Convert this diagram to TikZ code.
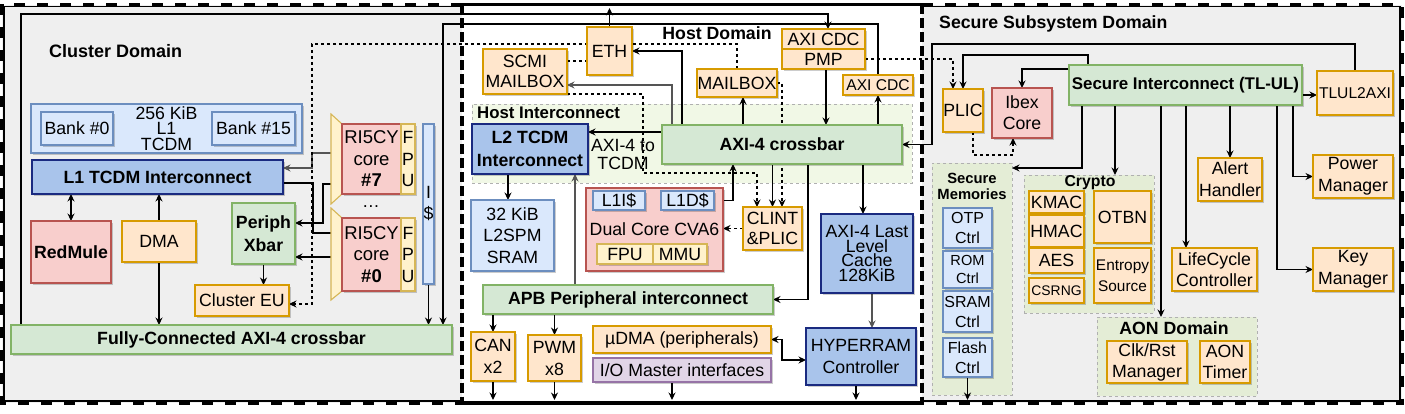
\documentclass[tikz,border=0pt]{standalone}
\usepackage{fontspec}
\setmainfont{Liberation Sans}
\usetikzlibrary{arrows.meta,shadows,calc}
\definecolor{orF}{HTML}{FFE6CC}\definecolor{orD}{HTML}{D79B00}
\definecolor{lbF}{HTML}{DAE8FC}\definecolor{lbD}{HTML}{6C8EBF}
\definecolor{dbF}{HTML}{A9C4EB}\definecolor{dbD}{HTML}{1A2A80}
\definecolor{grF}{HTML}{D5E8D4}\definecolor{grD}{HTML}{82B366}
\definecolor{pkF}{HTML}{F8CECC}\definecolor{pkD}{HTML}{B85450}
\definecolor{yeF}{HTML}{FFF2CC}\definecolor{yeD}{HTML}{D6B656}
\definecolor{puF}{HTML}{E1D5E7}\definecolor{puD}{HTML}{9673A6}
\definecolor{bgG}{HTML}{EFEFEF}
\definecolor{rgF}{HTML}{E4EDD6}\definecolor{rgH}{HTML}{F1F8E6}
\definecolor{rgD}{HTML}{B0B0B0}
\definecolor{lnG}{HTML}{555555}
\pgfdeclarelayer{back}\pgfdeclarelayer{edges}\pgfdeclarelayer{front}
\pgfsetlayers{back,edges,main,front}
\newcommand\mkbox[7]{\node[#2, minimum width={(#5)-(#3)}, minimum height={(#6)-(#4)}] (#1) at ({((#3)+(#5))/2},{((#4)+(#6))/2}) {#7};}
\tikzset{
  fs/.style 2 args={font=\fontsize{#1}{#2}\selectfont},
  fsb/.style 2 args={font=\fontsize{#1}{#2}\selectfont\bfseries},
  bftext/.style={fsb={17.7}{21}},
  base/.style={draw, line width=1.1pt, inner sep=0pt, outer sep=0pt, align=center, fs={17.7}{21},
    drop shadow={shadow xshift=2pt,shadow yshift=-2pt,opacity=0.2,fill=black}},
  orbox/.style={base, fill=orF, draw=orD},
  lbbox/.style={base, fill=lbF, draw=lbD},
  dbbox/.style={base, fill=dbF, draw=dbD},
  grbox/.style={base, fill=grF, draw=grD},
  pkbox/.style={base, fill=pkF, draw=pkD},
  yebox/.style={base, fill=yeF, draw=yeD},
  pubox/.style={base, fill=puF, draw=puD},
  region/.style={draw=rgD, fill=rgF, dash pattern=on 3pt off 3pt, line width=0.8pt, inner sep=0pt, outer sep=0pt},
  lbl/.style={inner sep=0pt, align=center},
  arr/.style={line width=1.1pt, -{Stealth[length=7.5pt,width=7pt,inset=2.5pt]}},
  arrd/.style={arr, dash pattern=on 3pt off 3pt},
  arr2/.style={line width=1.1pt, {Stealth[length=7.5pt,width=7pt,inset=2.5pt]}-{Stealth[length=7.5pt,width=7pt,inset=2.5pt]}},
  ln/.style={line width=1.1pt},
  dln/.style={line width=1.1pt, dash pattern=on 3pt off 3pt},
  domb/.style={line width=3.8pt, dash pattern=on 11pt off 12pt},
  domv/.style={line width=3.8pt, dash pattern=on 10pt off 4pt},
  domt/.style={line width=1.2pt},
  doms/.style={line width=3.8pt},
}
\begin{document}
\begin{tikzpicture}[x=1pt,y=-1pt]
\useasboundingbox (0,0) rectangle (1405,414);
\begin{pgfonlayer}{back}
  \fill[bgG] (2,5) rectangle (462,402.5);
  \fill[bgG] (922,5) rectangle (1402,402.5);
  \mkbox{hostic}{region, fill=rgH}{472}{104}{912}{183}{}
  \mkbox{secmem}{region}{932}{163}{1012}{395}{}
  \mkbox{crypto}{region}{1024}{175}{1154}{313}{}
  \mkbox{aon}{region}{1097}{317}{1257}{396}{}
\end{pgfonlayer}

% ---------- titles ----------
\node[lbl, bftext, fsb={18}{21}, anchor=west] (tcl) at (49,51) {Cluster Domain};
\node[lbl, bftext] (thost) at (717,33) {Host Domain};
\node[lbl, bftext, anchor=west] (tsec) at (939,24) {Secure Subsystem Domain};
\node[lbl, fsb={16.8}{20}, anchor=west] (thic) at (477,113) {Host Interconnect};
\node[lbl, fsb={14.8}{16}] (tsm) at (972,186) {Secure\\Memories};
\node[lbl, fsb={15.8}{18}] (tcr) at (1090,183) {Crypto};
\node[lbl, bftext] (taon) at (1174,328) {AON Domain};

% ---------- cluster ----------
\mkbox{l1tcdm}{lbbox, fs={17.7}{15.8}}{31}{104}{302}{153}{256 KiB\\L1\\TCDM}
\mkbox{bank0}{lbbox}{41}{112}{113}{145}{Bank \#0}
\mkbox{bank15}{lbbox}{212}{112}{295}{145}{Bank \#15}
\mkbox{l1ic}{dbbox, bftext}{32}{160}{283}{194}{L1 TCDM Interconnect}
\mkbox{redmule}{pkbox, bftext}{31}{221}{111}{283}{RedMule}
\mkbox{dma}{orbox}{122}{221}{196}{262}{DMA}
\mkbox{pxbar}{grbox, fsb={17.7}{23}}{232}{203}{295}{264}{Periph\\Xbar}
\mkbox{ceu}{orbox}{195}{285}{289}{316}{Cluster EU}
\mkbox{fcxbar}{grbox, bftext}{11}{325}{452}{354}{Fully-Connected AXI-4 crossbar}
\path[fill=yeF, draw=yeD, line width=1.1pt] (331,114) -- (342,124) -- (342,194) -- (331,204) -- cycle;
\path[fill=yeF, draw=yeD, line width=1.1pt] (331,208) -- (342,218) -- (342,291) -- (331,300) -- cycle;
\mkbox{core7}{pkbox, fs={18.5}{21.5}}{342}{124}{401}{194}{RI5CY\\core\\\textbf{\#7}}
\mkbox{fpu7}{yebox, fs={17.7}{21.5}}{401}{124}{415}{194}{F\\P\\U}
\node[lbl, fs={17.7}{21}] (dots) at (371,207) {…};
\mkbox{core0}{pkbox, fs={18.5}{21.5}}{342}{218}{401}{291}{RI5CY\\core\\\textbf{\#0}}
\mkbox{fpu0}{yebox, fs={17.7}{21.5}}{401}{218}{415}{291}{F\\P\\U}
\mkbox{icache}{lbbox}{423}{124}{434}{284}{I\\\$}
\coordinate (m7a) at (331,153);
\coordinate (m7b) at (331,184);
\coordinate (m0a) at (331,233);
\coordinate (m0b) at (331,257);

% ---------- host ----------
\mkbox{eth}{orbox}{587}{27}{632}{75}{ETH}
\mkbox{scmi}{orbox, fs={17.7}{20}}{483}{49}{567}{94}{SCMI\\MAILBOX}
\mkbox{mbox}{orbox}{697}{69}{777}{97}{MAILBOX}
\mkbox{cdc1}{orbox}{782}{29}{865}{49}{AXI CDC}
\mkbox{pmp}{orbox}{782}{49}{865}{69}{PMP}
\mkbox{cdc2}{orbox, fs={15.6}{18}}{843}{75}{913}{95}{AXI CDC}
\mkbox{l2ic}{dbbox, fsb={17.7}{23}}{472}{124}{588}{174}{L2 TCDM\\Interconnect}
\mkbox{axixbar}{grbox, bftext}{662}{125}{902}{164}{AXI-4 crossbar}
\node[lbl, fs={17.7}{18}] (a2t) at (623,154) {AXI-4 to\\TCDM};
\mkbox{l2spm}{lbbox, fs={17.7}{21.5}}{471}{200}{554}{271}{32 KiB\\L2SPM\\SRAM}
\mkbox{cva6}{pkbox}{586}{188}{723}{271}{Dual Core CVA6}
\mkbox{l1i}{lbbox}{593}{191}{645}{210}{L1I\$}
\mkbox{l1d}{lbbox}{661}{191}{714}{210}{L1D\$}
\mkbox{fpu}{yebox}{597}{244}{653}{264}{FPU}
\mkbox{mmu}{yebox}{653}{244}{707}{264}{MMU}
\mkbox{clint}{orbox, fs={17.7}{20}}{743}{207}{802}{250}{CLINT\\\&PLIC}
\mkbox{llc}{dbbox, fs={17.7}{14.6}}{821}{214}{913}{293}{AXI-4 Last\\Level\\Cache\\128KiB}
\mkbox{apb}{grbox, bftext}{483}{285}{773}{314}{APB Peripheral interconnect}
\mkbox{can}{orbox, fs={17.7}{22}}{471}{332}{515}{381}{CAN\\x2}
\mkbox{pwm}{orbox, fs={17.7}{22}}{528}{335}{581}{381}{PWM\\x8}
\mkbox{udma}{orbox}{593}{326}{771}{353}{µDMA (peripherals)}
\mkbox{iom}{pubox}{593}{358}{771}{382}{I/O Master interfaces}
\mkbox{hyper}{dbbox, fs={17.7}{22}}{806}{328}{916}{385}{HYPERRAM\\Controller}

% ---------- secure ----------
\mkbox{plic}{orbox}{943}{89}{983}{132}{PLIC}
\mkbox{ibex}{pkbox}{992}{88}{1052}{138}{Ibex\\Core}
\mkbox{secic}{grbox, fsb={16.9}{20}}{1069}{65}{1302}{105}{Secure Interconnect (TL-UL)}
\mkbox{tlul}{orbox, fs={15.6}{18}}{1317}{71}{1393}{115}{TLUL2AXI}
\mkbox{alert}{orbox, fs={17.7}{22}}{1198}{158}{1262}{201}{Alert\\Handler}
\mkbox{pwr}{orbox, fs={17.7}{22}}{1313}{155}{1393}{198}{Power\\Manager}
\mkbox{otp}{lbbox, fs={16}{20}}{943}{208}{992}{248}{OTP\\Ctrl}
\mkbox{rom}{lbbox, fs={14.6}{18}}{943}{251}{992}{288}{ROM\\Ctrl}
\mkbox{sram}{lbbox, fs={16}{20}}{943}{291}{992}{332}{SRAM\\Ctrl}
\mkbox{flash}{lbbox, fs={16}{20}}{943}{338}{992}{377}{Flash\\Ctrl}
\mkbox{kmac}{orbox}{1029}{191}{1084}{213}{KMAC}
\mkbox{hmac}{orbox}{1029}{215}{1084}{247}{HMAC}
\mkbox{aes}{orbox}{1029}{248}{1084}{273}{AES}
\mkbox{csrng}{orbox, fs={13.9}{16}}{1029}{278}{1084}{303}{CSRNG}
\mkbox{otbn}{orbox}{1094}{191}{1151}{243}{OTBN}
\mkbox{entropy}{orbox, fs={15.4}{21}}{1094}{248}{1151}{303}{Entropy\\Source}
\mkbox{lc}{orbox}{1172}{248}{1257}{291}{LifeCycle\\Controller}
\mkbox{keym}{orbox, fs={17.7}{22}}{1313}{248}{1393}{291}{Key\\Manager}
\mkbox{clk}{orbox}{1107}{341}{1187}{383}{Clk/Rst\\Manager}
\mkbox{aont}{orbox}{1200}{341}{1250}{383}{AON\\Timer}

\coordinate (ethout) at (609.5,8);
\coordinate (canout) at (493,400);
\coordinate (pwmout) at (554.5,400);
\coordinate (iomout) at (672,400);
\coordinate (hypout) at (856,400);
\coordinate (flashout) at (967.5,400);

\begin{pgfonlayer}{edges}
% cluster
\draw[arr] ([xshift=10pt]fcxbar.north west) -- (21,14) -| ([xshift=4.5pt]cdc1.north);
\draw[arr] (cdc2.north) |- (443,24) -- ([xshift=-9pt]fcxbar.north east);
\draw[arr] (icache.south) -- (icache.south |- fcxbar.north);
\draw[arr2] (redmule.north) -- (redmule.north |- l1ic.south);
\draw[arr] (dma.north) -- (dma.north |- l1ic.south);
\draw[arr] (dma.south) -- (dma.south |- fcxbar.north);
\draw[arr] (pxbar.south) -- (pxbar.south |- ceu.north);
\draw[arr, draw=lnG] (m7a) -| (312,168) -- ([yshift=9pt]l1ic.east);
\draw[ln] (m0a) -| (313,183) -- ([yshift=-6pt]l1ic.east);
\draw[arr] (m7b) -| (323,223) -- ([yshift=10.5pt]pxbar.east);
\draw[arr] (m0b) -- ([yshift=-23.5pt]pxbar.east);
\draw[arrd] (mbox.north) |- (312,44) |- ([yshift=-3.5pt]ceu.east);
% host
\draw[arr] (eth.north) -- (ethout);
\draw[arr] ([xshift=20pt]axixbar.north west) |- (eth.east);
\draw[arr, draw=lnG] ([xshift=10pt]axixbar.north west) |- ([yshift=-13.5pt]scmi.east);
\draw[arr] ([xshift=81pt]axixbar.north west) -- ([xshift=6pt]mbox.south);
\draw[arr] ([xshift=2.5pt]pmp.south) -- ([xshift=164pt]axixbar.north west);
\draw[arr] ([xshift=216pt]axixbar.north west) -- (cdc2.south);
\draw[arr] ([yshift=12.5pt]axixbar.west) -- ([yshift=17pt]l2ic.east);
\draw[arr] ([xshift=-22pt]l2ic.south) -- ([xshift=-4.5pt]l2spm.north);
\draw[arr, draw=lnG] ([xshift=92pt]apb.north west) -- ([xshift=45pt]l2ic.south);
\draw[arr] (l1d.east) -| ([xshift=71pt]axixbar.south west);
\draw[arr] (clint.north |- axixbar.south) -- (clint.north);
\draw[arrd] (mbox.east) -| ([xshift=9.5pt]clint.north);
\draw[arrd] (scmi.south east) -- (643,94) -- (643,173) -| ([xshift=-15.5pt]clint.north);
\draw[arrd] (clint.west) -- (clint.west -| cva6.east);
\draw[arr] ([xshift=146pt]axixbar.south west) |- (apb.east);
\draw[arr] ([xshift=201pt]axixbar.south west) -- ([xshift=-4pt]llc.north);
\draw[arr, draw=lnG] ([xshift=5pt]llc.south) -- ([xshift=11pt]hyper.north);
\draw[arr] (can.north |- apb.south) -- (can.north);
\draw[arr] (pwm.north |- apb.south) -- (pwm.north);
\draw[arr] (can.south) -- (canout);
\draw[arr] (pwm.south) -- (pwmout);
\draw[arr] ([xshift=-10pt]iom.south) -- (iomout);
\draw[arr] ([xshift=-5pt]hyper.south) -- (hypout);
\draw[arr2] (udma.east) -- (782,339.5) |- ([yshift=-3.5pt]hyper.west);
\draw[dln] ([yshift=10.5pt]scmi.east) -- ([yshift=-10pt]eth.west);
% secure
\draw[arr] (tlul.north) |- (932,44) |- (axixbar.east);
\draw[arrd] (pmp.east) -| ([xshift=-10pt]plic.north);
\draw[arr] ([xshift=19pt]secic.north west) -- ++(0,-10) -| (plic.north);
\draw[arr] ([yshift=16pt]secic.west) -| (ibex.north);
\draw[arrd] ([xshift=10pt]plic.south) -- ++(0,23) -| ([xshift=-9pt]ibex.south);
\draw[arr] ([xshift=13pt]secic.south west) |- ([yshift=111pt]secmem.east);
\draw[arr] ([xshift=46pt]secic.south west) -- ([xshift=26pt]crypto.north);
\draw[arr] ([xshift=92pt]secic.south west) -- ([xshift=-16pt]aon.north);
\draw[arr] ([xshift=117pt]secic.south west) -- ([xshift=-28.5pt]lc.north);
\draw[arr] ([xshift=161pt]secic.south west) -- (alert.north);
\draw[arr] ([xshift=208pt]secic.south west) |- (keym.west);
\draw[arr] ([xshift=224pt]secic.south west) |- (pwr.west);
\draw[arr] ([yshift=-10pt]secic.east) -- ([yshift=-2pt]tlul.west);
\draw[arr] (flash.south) -- (flashout);
\end{pgfonlayer}

\begin{pgfonlayer}{front}
% thin inner outlines of the outer domains
\draw[domt] (462,6.5) -- (4,6.5) -- (4,401) -- (462,401);
\draw[domt] (922,6.5) -- (1400,6.5) -- (1400,401) -- (922,401);
% thick dashed outlines
\draw[domb] (462,4.5) -- (2,4.5) -- (2,403) -- (462,403);
\draw[domb] (922,4.5) -- (1402,4.5) -- (1402,403) -- (922,403);
\draw[doms] (460,4.5) -- (924,4.5);
\draw[doms] (460,403) -- (924,403);
\draw[domv] (462,4.5) -- (462,403);
\draw[domv] (922,4.5) -- (922,403);
\end{pgfonlayer}
\end{tikzpicture}
\end{document}
